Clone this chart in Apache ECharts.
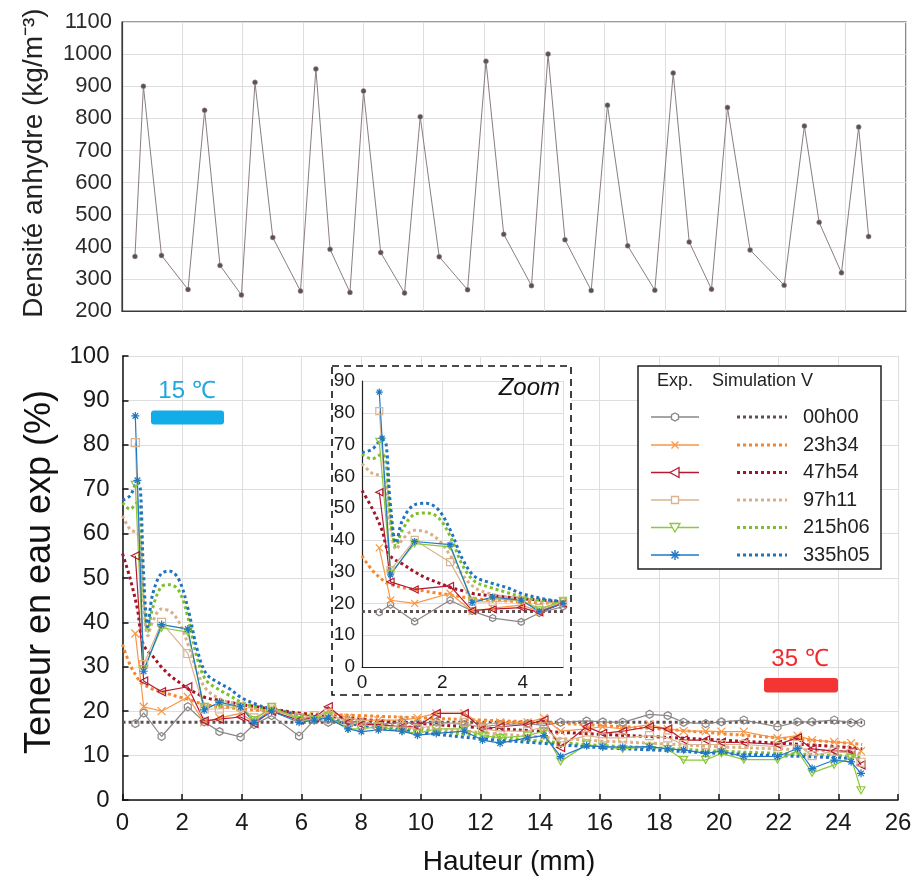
<!DOCTYPE html>
<html><head><meta charset="utf-8">
<script src="https://cdn.jsdelivr.net/npm/echarts@6/dist/echarts.min.js"></script>
<style>html,body{margin:0;padding:0;background:#fff}#c{width:916px;height:888px}</style>
</head><body><div id="c"></div>
<script>
// ---------- DATA ----------
const densX = [0.43,0.71,1.31,2.19,2.74,3.25,3.96,4.41,5.0,5.92,6.43,6.9,7.56,8.01,8.58,9.37,9.89,10.52,11.46,12.07,12.66,13.58,14.13,14.69,15.56,16.1,16.77,17.67,18.28,18.81,19.55,20.08,20.83,21.96,22.63,23.12,23.86,24.43,24.76];
const densY = [370,900,373,267,825,342,250,912,429,262,954,392,258,885,382,256,805,369,266,978,439,279,1000,422,264,841,403,265,941,415,268,834,390,280,776,476,319,773,432];

const expX = densX;
const exp00h00  = [17.2,19.6,14.3,21.0,17.6,15.4,14.2,17.0,19.0,14.4,18.0,17.5,17.8,17.5,17.0,17.5,17.2,17.6,17.0,16.5,17.0,17.2,16.8,17.5,17.8,17.6,17.5,19.3,19.0,17.5,17.2,17.6,18.0,16.5,17.6,17.6,18.0,17.4,17.4];
const exp23h34  = [37.5,21.0,20.0,23.2,17.5,18.5,19.5,17.5,20.5,18.5,18.5,20.0,18.5,18.0,18.0,18.0,18.5,19.5,19.5,17.0,17.5,17.5,18.5,15.5,16.0,16.5,16.0,17.0,16.0,15.5,15.5,15.4,15.4,13.9,14.5,13.5,13.1,12.8,11.0];
const exp47h54  = [55.0,26.8,24.4,25.5,17.8,18.2,18.7,17.2,20.0,18.0,18.5,21.0,17.5,17.0,17.0,16.5,16.5,19.5,19.5,16.0,16.5,17.0,18.0,11.8,16.5,15.0,15.5,16.5,16.0,13.5,13.5,13.0,13.0,12.5,14.0,11.5,11.0,11.0,7.9];
const exp97h11  = [80.5,30.5,40.0,33.0,20.5,20.5,21.0,18.5,20.5,18.5,19.0,19.5,17.5,17.0,16.5,16.5,16.0,17.0,17.5,16.0,15.5,15.5,16.5,13.0,14.5,14.0,14.0,14.5,14.0,12.5,12.5,12.5,12.5,12.0,12.5,10.0,11.0,10.5,8.5];
const exp215h06 = [71.0,29.5,38.8,37.8,21.0,21.5,21.0,18.0,21.0,18.0,18.0,19.0,16.0,16.0,16.5,15.5,15.0,16.0,16.0,14.5,14.0,14.5,15.5,8.7,12.5,12.0,11.5,12.0,11.5,9.0,9.0,10.5,9.1,9.1,11.0,6.1,7.9,9.5,2.2];
const exp335h05X = [0.43,0.5,0.71,1.31,2.19,2.74,3.25,3.96,4.41,5.0,5.92,6.43,6.9,7.56,8.01,8.58,9.37,9.89,10.52,11.46,12.07,12.66,13.58,14.13,14.69,15.56,16.1,16.77,17.67,18.28,18.81,19.55,20.08,20.83,21.96,22.63,23.12,23.86,24.43,24.76];
const exp335h05 = [86.5,72.0,29.0,39.5,38.5,20.3,22.0,21.0,17.5,20.0,17.5,18.0,18.5,16.0,15.4,15.8,15.5,14.6,15.0,15.5,13.5,12.8,14.0,14.5,9.8,12.2,12.0,11.9,12.0,11.5,11.3,10.5,11.0,9.8,9.8,11.6,7.1,9.0,8.6,6.0];

const simX      = [0,0.25,0.5,0.6,0.7,0.85,1.0,1.3,1.6,1.9,2.2,2.5,2.8,3.2,3.6,4.0,4.5,5.0,6,8,10,12,14,16,18,20,22,24,24.8];
const sim00h00  = [17.5,17.5,17.5,17.5,17.5,17.5,17.5,17.5,17.5,17.5,17.5,17.5,17.5,17.5,17.5,17.5,17.5,17.5,17.5,17.5,17.5,17.5,17.5,17.5,17.5,17.5,17.5,17.5,17.5];
const sim23h34  = [35,30.5,27.5,26.5,26,25.5,25,24.5,23.8,23.2,22.7,22,21.5,21,20.8,20.5,20.2,20,19.5,19,18.5,18,17.5,16.8,16,15,14,13,12.5];
const sim47h54  = [55.5,50,43,38,35,33.5,32.5,30,28,26.5,25,24,23,22.5,22,21.5,21,20.5,19.5,18.2,17.2,16.3,15.5,14.8,14.2,13.5,12.8,12,11.5];
const sim97h11  = [64,61,60,58,45,37,40,43,42.5,40,35,29,25,23,22,21.5,20.5,20,19.2,17.5,16.3,15.2,14.2,13.3,12.7,12,11.5,11,10.5];
const sim215h06 = [67,65.5,67,64,48,38,43,48,48.5,47,41,32,27,25,23.5,22,21,20.5,19.2,17.2,15.8,14.5,13.3,12.3,11.7,11,10.5,10,9.6];
const sim335h05 = [67.5,68.5,71.5,70,52,39,46,51,51.5,49.5,43,34,28.5,26.5,25,23,21.5,20.5,19,16.8,15.2,13.8,12.8,11.8,11.2,10.5,10,9.5,9.2];

const seriesNames = ['00h00','23h34','47h54','97h11','215h06','335h05'];

// ---------- STYLE ----------
const FONT = '"Liberation Sans", Arial, sans-serif';
const expColors = ['#8c8686','#f79646','#b41a30','#d9b48f','#8dc63f','#2078c4'];
const simColors = ['#5f5050','#f3862e','#a3142a','#d8b088','#7fbf2c','#1f74c0'];
const expSymbols = [
  'path://M5,0L9.33,2.5L9.33,7.5L5,10L0.67,7.5L0.67,2.5Z',
  'path://M0,0L10,10M10,0L0,10',
  'path://M0,5L10,0L10,10Z',
  'rect',
  'path://M0,0L10,0L5,8.66Z',
  'path://M5,0L5,10M0,5L10,5M1.5,1.5L8.5,8.5M8.5,1.5L1.5,8.5'
];
const expData = [
  [expX, exp00h00],[expX, exp23h34],[expX, exp47h54],[expX, exp97h11],[expX, exp215h06],[exp335h05X, exp335h05]
];
const simData = [sim00h00, sim23h34, sim47h54, sim97h11, sim215h06, sim335h05];

function pairs(xs, ys){ return xs.map((x,i)=>[x, ys[i]]); }

const series = [];
series.push({
  type:'line', xAxisIndex:0, yAxisIndex:0, data: pairs(densX, densY),
  symbol:'circle', symbolSize:5, lineStyle:{color:'#8a7e7e', width:1},
  itemStyle:{color:'#5e5050', borderColor:'#a09898', borderWidth:0.5}, z:2, silent:true
});
function addSets(xi, yi, zBase, symSize){
  simData.forEach((d,k)=>{
    series.push({type:'line', xAxisIndex:xi, yAxisIndex:yi, data: pairs(simX, d),
      showSymbol:false, symbol:'none', smooth:0.35, clip:true,
      lineStyle:{color: simColors[k], width:3, type:[3,3]}, z:zBase, silent:true});
  });
  expData.forEach((d,k)=>{
    series.push({type:'line', xAxisIndex:xi, yAxisIndex:yi, data: pairs(d[0], d[1]),
      symbol: expSymbols[k], symbolSize: symSize, symbolKeepAspect:true, clip:true,
      lineStyle:{color: expColors[k], width:1.2},
      itemStyle:{color:'rgba(255,255,255,0)', borderColor: expColors[k], borderWidth:1.2},
      z:zBase+0.5, silent:true});
  });
}
addSets(1,1,2,8);
addSets(2,2,8,7);

const gridLine = {show:true, lineStyle:{color:'#dedede', width:1}};
const plain = v => String(v);
const option = {
  animation:false,
  backgroundColor:'#fff',
  grid:[
    {left:122, top:22, width:784, height:289, show:true, borderColor:'#3a3a3a', borderWidth:1.2, backgroundColor:'transparent'},
    {left:122.5, top:356, width:775.5, height:444},
    {left:362, top:381, width:201, height:286}
  ],
  xAxis:[
    {gridIndex:0, type:'value', min:0, max:26, interval:2, axisLabel:{show:false}, axisTick:{show:false},
     axisLine:{show:true, lineStyle:{color:'#3a3a3a', width:1.2}}, splitLine:gridLine},
    {gridIndex:1, type:'value', min:0, max:26, interval:2,
     axisLabel:{fontSize:24, color:'#1a1a1a', fontFamily:FONT, margin:11, formatter:plain},
     axisTick:{show:true, inside:true, length:6, lineStyle:{color:'#111', width:1.5}},
     axisLine:{show:true, lineStyle:{color:'#111', width:1.5}}, splitLine:gridLine},
    {gridIndex:2, type:'value', min:0, max:5, interval:2, z:6,
     axisLabel:{fontSize:19, color:'#1a1a1a', fontFamily:FONT, margin:6, showMaxLabel:false, formatter:plain},
     axisTick:{show:false},
     axisLine:{show:true, lineStyle:{color:'#222', width:1.2}}, splitLine:gridLine}
  ],
  yAxis:[
    {gridIndex:0, type:'value', min:200, max:1100, interval:100,
     axisLabel:{fontSize:22, color:'#2a2a2a', fontFamily:FONT, margin:10, formatter:plain},
     axisTick:{show:false}, axisLine:{show:true, lineStyle:{color:'#3a3a3a', width:1.2}}, splitLine:gridLine},
    {gridIndex:1, type:'value', min:0, max:100, interval:10,
     axisLabel:{fontSize:24, color:'#1a1a1a', fontFamily:FONT, margin:13, formatter:plain},
     axisTick:{show:true, inside:true, length:6, lineStyle:{color:'#111', width:1.5}},
     axisLine:{show:true, lineStyle:{color:'#111', width:1.5}}, splitLine:gridLine},
    {gridIndex:2, type:'value', min:0, max:90, interval:10, z:6,
     axisLabel:{fontSize:19, color:'#1a1a1a', fontFamily:FONT, margin:7, formatter:plain},
     axisTick:{show:false},
     axisLine:{show:true, lineStyle:{color:'#222', width:1.2}}, splitLine:gridLine}
  ],
  series: series
};

// ---------- annotations / legend ----------
const g = [];
g.push({type:'text', x:34, y:163, rotation:Math.PI/2, z:20,
  style:{text:'Densité anhydre (kg/m⁻³)', font:'28px '+FONT, fill:'#222', textAlign:'center', textVerticalAlign:'middle'}});
g.push({type:'text', x:40, y:572, rotation:Math.PI/2, z:20,
  style:{text:'Teneur en eau exp (%)', font:'36px '+FONT, fill:'#111', textAlign:'center', textVerticalAlign:'middle'}});
g.push({type:'text', x:509, y:862, z:20,
  style:{text:'Hauteur (mm)', font:'28px '+FONT, fill:'#111', textAlign:'center', textVerticalAlign:'middle'}});
// temperature markers
g.push({type:'text', x:187, y:391, z:20, style:{text:'15 ℃', font:'24px '+FONT, fill:'#1ea8e2', textAlign:'center', textVerticalAlign:'middle'}});
g.push({type:'rect', shape:{x:151, y:410.5, width:73, height:14, r:3}, z:20, style:{fill:'#12ade8'}});
g.push({type:'text', x:800, y:659, z:20, style:{text:'35 ℃', font:'24px '+FONT, fill:'#f02a2a', textAlign:'center', textVerticalAlign:'middle'}});
g.push({type:'rect', shape:{x:764, y:678, width:74, height:14.5, r:3}, z:20, style:{fill:'#f53434'}});
// inset frame
g.push({type:'rect', shape:{x:332, y:366, width:239, height:329}, z:5,
  style:{fill:'#fff', stroke:'#111', lineWidth:1.6, lineDash:[7,5]}});
g.push({type:'text', x:560, y:388, z:20, style:{text:'Zoom', font:'italic 24px '+FONT, fill:'#111', textAlign:'right', textVerticalAlign:'middle'}});
// legend
g.push({type:'rect', shape:{x:638, y:366, width:243, height:203}, z:15, style:{fill:'#fff', stroke:'#222', lineWidth:1.5}});
g.push({type:'text', x:657, y:381, z:16, style:{text:'Exp.', font:'18px '+FONT, fill:'#222', textVerticalAlign:'middle'}});
g.push({type:'text', x:712, y:381, z:16, style:{text:'Simulation V', font:'18px '+FONT, fill:'#222', textVerticalAlign:'middle'}});
const rowY = [417,445,472.5,500,527.5,555];
function markerShape(k, cx, cy, c){
  const s = {stroke:c, fill:'#fff', lineWidth:1.3};
  if(k===0) return {type:'polygon', shape:{points:[[cx,cy-4],[cx+3.5,cy-2],[cx+3.5,cy+2],[cx,cy+4],[cx-3.5,cy+2],[cx-3.5,cy-2]]}, style:s, z:17};
  if(k===1) return {type:'polyline', shape:{points:[[cx-3.5,cy-3.5],[cx+3.5,cy+3.5],[cx,cy],[cx+3.5,cy-3.5],[cx-3.5,cy+3.5]]}, style:{stroke:c, fill:null, lineWidth:1.3}, z:17};
  if(k===2) return {type:'polygon', shape:{points:[[cx-5,cy],[cx+4,cy-5],[cx+4,cy+5]]}, style:s, z:17};
  if(k===3) return {type:'rect', shape:{x:cx-3.5, y:cy-3.5, width:7, height:7}, style:s, z:17};
  if(k===4) return {type:'polygon', shape:{points:[[cx-5,cy-4],[cx+5,cy-4],[cx,cy+4.5]]}, style:s, z:17};
  return {type:'group', z:17, children:[
    {type:'line', shape:{x1:cx, y1:cy-5, x2:cx, y2:cy+5}, style:{stroke:c, lineWidth:1.5}, z:17},
    {type:'line', shape:{x1:cx-5, y1:cy, x2:cx+5, y2:cy}, style:{stroke:c, lineWidth:1.5}, z:17},
    {type:'line', shape:{x1:cx-3.5, y1:cy-3.5, x2:cx+3.5, y2:cy+3.5}, style:{stroke:c, lineWidth:1.5}, z:17},
    {type:'line', shape:{x1:cx+3.5, y1:cy-3.5, x2:cx-3.5, y2:cy+3.5}, style:{stroke:c, lineWidth:1.5}, z:17}
  ]};
}
seriesNames.forEach((nm,k)=>{
  const y = rowY[k];
  g.push({type:'line', shape:{x1:651, y1:y, x2:699, y2:y}, z:16, style:{stroke:expColors[k], lineWidth:1.5}});
  g.push(markerShape(k, 675, y, expColors[k]));
  g.push({type:'line', shape:{x1:737, y1:y, x2:787, y2:y}, z:16, style:{stroke:simColors[k], lineWidth:3, lineDash:[3,3]}});
  g.push({type:'text', x:803, y:y, z:16, style:{text:nm, font:'20px '+FONT, fill:'#222', textVerticalAlign:'middle'}});
});
option.graphic = {elements: g};

const chart = echarts.init(document.getElementById('c'));
chart.setOption(option);
</script>
</body></html>
